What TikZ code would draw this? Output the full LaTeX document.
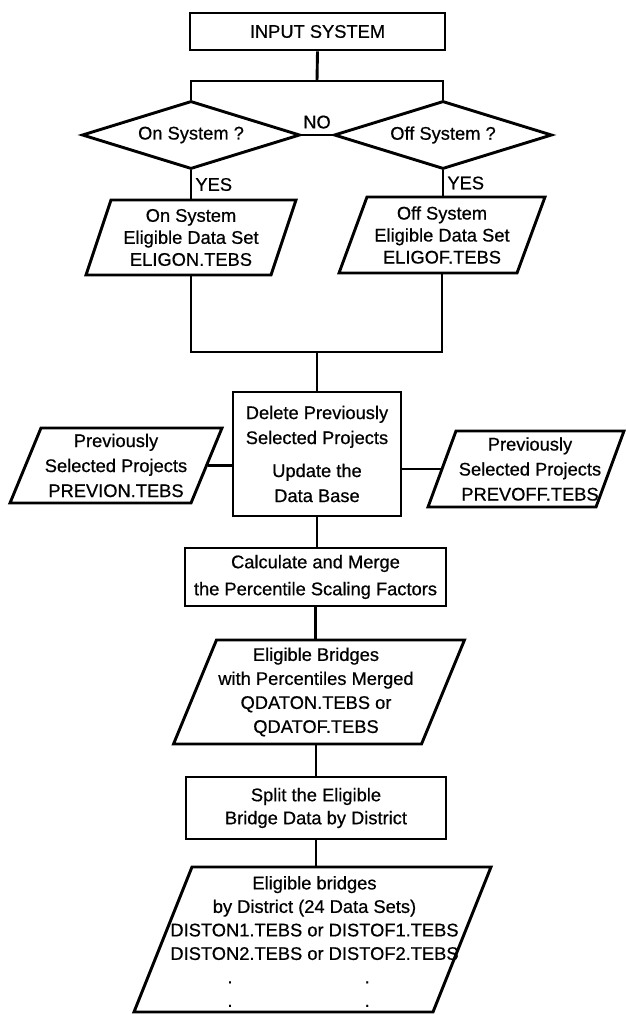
\documentclass[tikz,border=0pt]{standalone}
\usepackage{fontspec}
\setmainfont{Liberation Sans}[FakeBold=0.6]
\usetikzlibrary{shapes.geometric}
\tikzset{
  ln/.style={line width=2.9pt},
  box/.style={draw, line width=2.9pt, rectangle, align=center, inner sep=0pt},
  dec/.style={draw, line width=2.9pt, diamond, aspect=3.2, inner sep=0pt, align=center},
  io/.style={draw, line width=2.9pt, rectangle, inner sep=0pt, xslant=#1},
  txt/.style={inner sep=0pt, align=center},
  lbl/.style={inner sep=0pt},
  fs/.style={font=\fontsize{18.3}{#1}\selectfont}
}
\begin{document}
\begin{tikzpicture}[x=1pt,y=-1pt]
\useasboundingbox (0,0) rectangle (626,1015);

\node[box, fs=22, minimum width=255pt, minimum height=37pt] (in) at (317.5,31.5) {INPUT SYSTEM};

\node[dec, fs=22, minimum width=218pt, minimum height=68pt] (d1) at (191,135) {On System ?};
\node[dec, fs=22, minimum width=218pt, minimum height=68pt] (d2) at (443,135) {Off System ?};

\node[io=0.333, minimum width=185pt, minimum height=75pt] (p1) at (191,237.5) {};
\node[txt, fs=22] (p1t) at (p1.center) {On System\\Eligible Data Set\\ELIGON.TEBS};
\node[io=0.368, minimum width=178pt, minimum height=76pt] (p2) at (442,235) {};
\node[txt, fs=22] (p2t) at (p2.center) {Off System\\Eligible Data Set\\ELIGOF.TEBS};

\node[box, fs=25, minimum width=168pt, minimum height=124pt] (del) at (317,454) {Delete Previously\\Selected Projects\\[8pt]Update the\\Data Base};
\node[io=0.413, minimum width=181pt, minimum height=75pt] (pon) at (116,465.5) {};
\node[txt, fs=25] (pont) at (pon.center) {Previously\\Selected Projects\\PREVION.TEBS};
\node[io=0.368, minimum width=168pt, minimum height=76pt] (poff) at (526,469) {};
\node[txt, fs=25] (pofft) at ([xshift=4pt]poff.center) {Previously\\Selected Projects\\PREVOFF.TEBS};

\node[box, fs=27, minimum width=261pt, minimum height=58pt] (calc) at (315.5,577) {Calculate and Merge\\the Percentile Scaling Factors};

\node[io=0.413, minimum width=248pt, minimum height=104pt] (q) at (319,692) {};
\node[txt, fs=24] (qt) at ([xshift=-3pt]q.center) {Eligible Bridges\\with Percentiles Merged\\QDATON.TEBS or\\QDATOF.TEBS};

\node[box, fs=23, minimum width=260pt, minimum height=62pt] (split) at (316,808) {Split the Eligible\\Bridge Data by District};

\node[io=0.4, minimum width=299pt, minimum height=145pt] (dist) at (312.5,939.5) {};
\node[txt, fs=23.5] (distt) at ([xshift=2pt,yshift=-2pt]dist.center) {Eligible bridges\\by District (24 Data Sets)\\DISTON1.TEBS or DISTOF1.TEBS\\DISTON2.TEBS or DISTOF2.TEBS\\\makebox[278pt][l]{\hspace{52pt}.\hspace{132pt}.}\\\makebox[278pt][l]{\hspace{52pt}.\hspace{132pt}.}};

\coordinate (j1) at (317,81);
\coordinate (j2) at (317,352);

\draw[ln] (in.south) -- (j1);
\draw[ln] (d1.north) -- (d1.north |- j1) -- (d2.north |- j1) -- (d2.north);
\draw[ln] (d1.east) -- node[lbl, fs=22, above=5pt] (no) {NO} (d2.west);
\draw[ln] (d1.south) -- node[lbl, fs=22, right=3pt] (yes1) {YES} (d1.south |- p1.north);
\draw[ln] (d2.south) -- node[lbl, fs=22, right=3pt] (yes2) {YES} (d2.south |- p2.north);
\draw[ln] (p1.center |- p1.south) -- (p1.center |- j2) -- (p2.center |- j2) -- (p2.center |- p2.south);
\draw[ln] (j2) -- (del.north);
\draw[ln] (pon.east) -- (pon.east -| del.west);
\draw[ln] (poff.west) -- (poff.west -| del.east);
\draw[ln] (del.south) -- (del.south |- calc.north);
\draw[ln] (calc.south) -- (calc.south |- q.north);
\draw[ln] (split.north |- q.south) -- (split.north);
\draw[ln] (split.south) -- (split.south |- dist.north);
\end{tikzpicture}
\end{document}
